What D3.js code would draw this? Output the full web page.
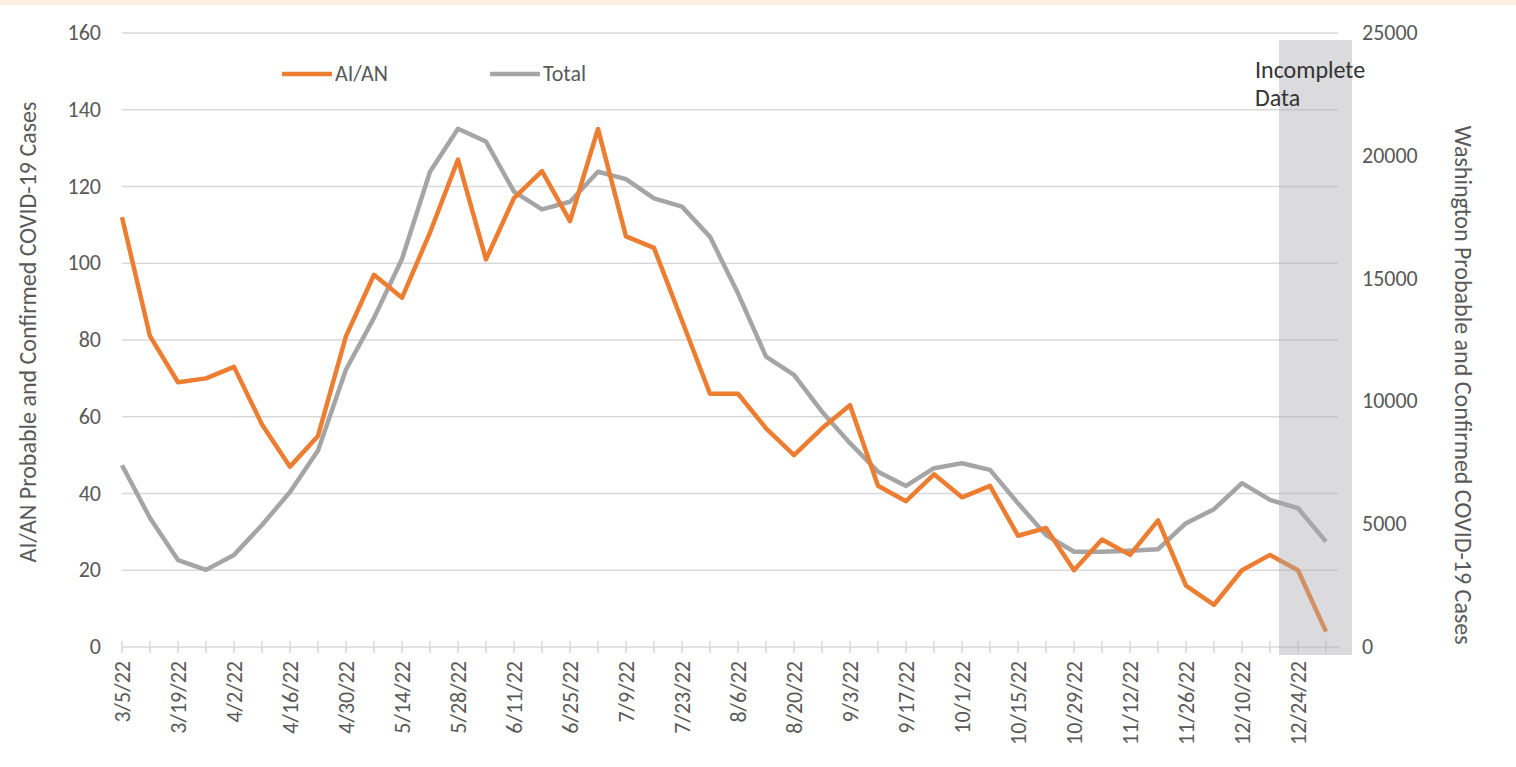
<!DOCTYPE html>
<html>
<head>
<meta charset="utf-8">
<script src="https://cdn.jsdelivr.net/npm/d3@7"></script>
<style>
  body { margin: 0; background: #fff; }
  svg text { font-family: Carlito, Lato, "Open Sans", sans-serif; fill: #595959; }
</style>
</head>
<body>
<div id="chart"></div>
<script>
// weekly dates, every other one gets a label
var weeks = ["3/5/22","3/12/22","3/19/22","3/26/22","4/2/22","4/9/22","4/16/22","4/23/22",
  "4/30/22","5/7/22","5/14/22","5/21/22","5/28/22","6/4/22","6/11/22","6/18/22","6/25/22",
  "7/2/22","7/9/22","7/16/22","7/23/22","7/30/22","8/6/22","8/13/22","8/20/22","8/27/22",
  "9/3/22","9/10/22","9/17/22","9/24/22","10/1/22","10/8/22","10/15/22","10/22/22","10/29/22",
  "11/5/22","11/12/22","11/19/22","11/26/22","12/3/22","12/10/22","12/17/22","12/24/22","12/31/22"];

var aianCases = [112, 81, 69, 70, 73, 58, 47, 55, 81, 97, 91, 108, 127, 101, 117, 124, 111,
  135, 107, 104, 85, 66, 66, 57, 50, 57, 63, 42, 38, 45, 39, 42, 29, 31, 20,
  28, 24, 33, 16, 11, 20, 24, 20, 4];

var totalCases = [7400, 5250, 3540, 3140, 3750, 4970, 6310, 8000, 11300, 13400, 15800, 19350,
  21100, 20580, 18540, 17820, 18130, 19350, 19050, 18270, 17930, 16700, 14400, 11820, 11080,
  9580, 8300, 7140, 6560, 7280, 7480, 7210, 5850, 4560, 3880, 3880, 3920, 3980, 5040, 5610,
  6670, 5990, 5650, 4290];

var leftTicks = [0, 20, 40, 60, 80, 100, 120, 140, 160];
var rightTicks = [0, 5000, 10000, 15000, 20000, 25000];
var incompleteWeeks = ["12/17/22", "12/31/22"];

var width = 1516, height = 767;
var x0 = 122, x1 = 1326, yTop = 33, yBottom = 647;
var orange = "#ED7D31", grey = "#A5A5A5";
var tickFont = "22px", titleFont = "24px";

var svg = d3.select("#chart").append("svg")
  .attr("width", width)
  .attr("height", height);

// thin peach strip along the top edge
svg.append("rect")
  .attr("x", 0).attr("y", 0)
  .attr("width", width).attr("height", 5)
  .attr("fill", "#FCEFDF");

var x = d3.scalePoint().domain(weeks).range([x0, x1]);
var yLeft = d3.scaleLinear().domain([0, 160]).range([yBottom, yTop]);
var yRight = d3.scaleLinear().domain([0, 25000]).range([yBottom, yTop]);

// gridlines (left axis drives them)
svg.append("g")
  .selectAll("line")
  .data(leftTicks.filter(function(d) { return d > 0; }))
  .enter().append("line")
  .attr("x1", x0).attr("x2", 1338)
  .attr("y1", function(d) { return yLeft(d); })
  .attr("y2", function(d) { return yLeft(d); })
  .attr("stroke", "#D9D9D9")
  .attr("stroke-width", 1.5);

// category axis line with a tick at every week
svg.append("line")
  .attr("x1", x0).attr("x2", 1340)
  .attr("y1", yBottom).attr("y2", yBottom)
  .attr("stroke", "#D9D9D9")
  .attr("stroke-width", 1.5);

svg.append("g")
  .selectAll("line")
  .data(weeks)
  .enter().append("line")
  .attr("x1", function(d) { return x(d); })
  .attr("x2", function(d) { return x(d); })
  .attr("y1", yBottom - 6).attr("y2", yBottom + 6)
  .attr("stroke", "#D9D9D9")
  .attr("stroke-width", 1.5);

// rotated date labels, every second week
svg.append("g")
  .selectAll("text")
  .data(weeks.filter(function(d, i) { return i % 2 === 0; }))
  .enter().append("text")
  .attr("transform", function(d) { return "translate(" + (x(d) + 8) + "," + (yBottom + 14) + ") rotate(-90)"; })
  .attr("text-anchor", "end")
  .style("font-size", tickFont)
  .text(function(d) { return d; });

// left and right value labels
svg.append("g")
  .selectAll("text")
  .data(leftTicks)
  .enter().append("text")
  .attr("x", 101)
  .attr("y", function(d) { return yLeft(d) + 7; })
  .attr("text-anchor", "end")
  .style("font-size", tickFont)
  .text(function(d) { return d; });

svg.append("g")
  .selectAll("text")
  .data(rightTicks)
  .enter().append("text")
  .attr("x", 1362)
  .attr("y", function(d) { return yRight(d) + 7; })
  .attr("text-anchor", "start")
  .style("font-size", tickFont)
  .text(function(d) { return d; });

// axis titles
svg.append("text")
  .attr("transform", "translate(36,332) rotate(-90)")
  .attr("text-anchor", "middle")
  .style("font-size", titleFont)
  .text("AI/AN Probable and Confirmed COVID-19 Cases");

svg.append("text")
  .attr("transform", "translate(1455,385) rotate(90)")
  .attr("text-anchor", "middle")
  .style("font-size", titleFont)
  .text("Washington Probable and Confirmed COVID-19 Cases");

// the two series
var lineLeft = d3.line()
  .x(function(d, i) { return x(weeks[i]); })
  .y(function(d) { return yLeft(d); });

var lineRight = d3.line()
  .x(function(d, i) { return x(weeks[i]); })
  .y(function(d) { return yRight(d); });

svg.append("path")
  .datum(totalCases)
  .attr("d", lineRight)
  .attr("fill", "none")
  .attr("stroke", grey)
  .attr("stroke-width", 4.5)
  .attr("stroke-linejoin", "round");

svg.append("path")
  .datum(aianCases)
  .attr("d", lineLeft)
  .attr("fill", "none")
  .attr("stroke", orange)
  .attr("stroke-width", 4.5)
  .attr("stroke-linejoin", "round");

// shaded "incomplete data" band, drawn on top so the lines fade under it
var bandLeft = (x(incompleteWeeks[0]) + x("12/24/22")) / 2 - 5;
svg.append("rect")
  .attr("x", bandLeft)
  .attr("y", 40)
  .attr("width", 1352 - bandLeft)
  .attr("height", 615)
  .attr("fill", "#A9A9AE")
  .attr("opacity", 0.42);

svg.append("text")
  .attr("x", 1255).attr("y", 78)
  .style("font-size", titleFont)
  .style("fill", "#333")
  .text("Incomplete");
svg.append("text")
  .attr("x", 1255).attr("y", 106)
  .style("font-size", titleFont)
  .style("fill", "#333")
  .text("Data");

// legend
var legendItems = [
  { name: "AI/AN", color: orange, x: 282 },
  { name: "Total", color: grey, x: 490 }
];
var lg = svg.append("g").selectAll("g")
  .data(legendItems)
  .enter().append("g");
lg.append("line")
  .attr("x1", function(d) { return d.x; })
  .attr("x2", function(d) { return d.x + 50; })
  .attr("y1", 74).attr("y2", 74)
  .attr("stroke", function(d) { return d.color; })
  .attr("stroke-width", 4.5);
lg.append("text")
  .attr("x", function(d) { return d.x + 53; })
  .attr("y", 81)
  .style("font-size", tickFont)
  .text(function(d) { return d.name; });
</script>
</body>
</html>
